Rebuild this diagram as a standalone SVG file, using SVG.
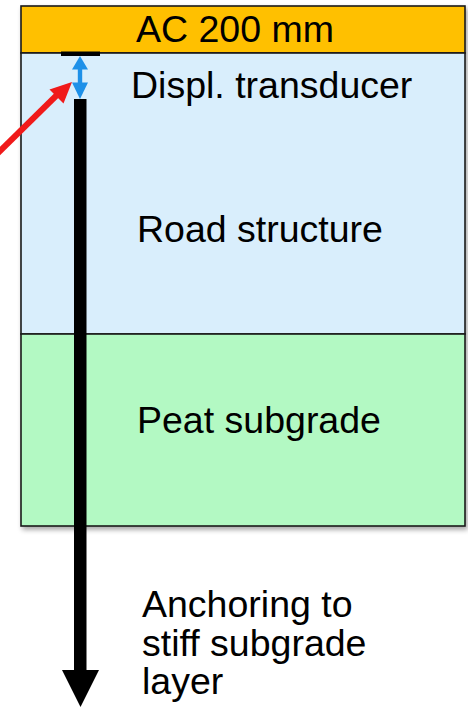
<svg xmlns="http://www.w3.org/2000/svg" width="468" height="713" viewBox="0 0 468 713">
  <style>
    .layer { stroke: #1a1a1a; stroke-width: 1.6; }
    .lbl { font-family: "Liberation Sans", Arial, sans-serif; font-size: 37.5px; fill: #000; }
  </style>
  <defs>
    <filter id="shadow" x="-5%" y="-5%" width="115%" height="115%">
      <feGaussianBlur in="SourceAlpha" stdDeviation="2.5"/>
      <feOffset dx="2" dy="3" result="b"/>
      <feComponentTransfer><feFuncA type="linear" slope="0.35"/></feComponentTransfer>
      <feMerge><feMergeNode/><feMergeNode in="SourceGraphic"/></feMerge>
    </filter>
  </defs>

  <!-- pavement cross-section layers -->
  <g filter="url(#shadow)">
    <g id="layer-ac">
      <rect class="layer" x="21" y="6" width="444" height="47" fill="#FFC000"/>
    </g>
    <g id="layer-road">
      <rect class="layer" x="21" y="53" width="444" height="281" fill="#D9EEFC"/>
    </g>
    <g id="layer-peat">
      <rect class="layer" x="21" y="334" width="444" height="192" fill="#B3F9C3"/>
    </g>
  </g>

  <text class="lbl" x="136" y="41.5">AC 200 mm</text>
  <text class="lbl" x="131" y="97.5">Displ. transducer</text>
  <text class="lbl" x="137" y="241.5">Road structure</text>
  <text class="lbl" x="137" y="432.5">Peat subgrade</text>

  <!-- transducer assembly -->
  <g id="transducer">
    <rect x="61" y="51.5" width="39" height="4.5" fill="#000"/>
    <rect x="77.8" y="66" width="4.4" height="19" fill="#1E90E8"/>
    <polygon points="80,56 72,69.5 88,69.5" fill="#1E90E8"/>
    <polygon points="80,99 72,82.5 88,82.5" fill="#1E90E8"/>
  </g>

  <g id="anchor-rod">
    <rect x="74" y="99" width="12.5" height="573" fill="#000"/>
    <polygon points="62,670 99,670 80.5,707" fill="#000"/>
  </g>

  <g id="connectors">
    <line x1="-4" y1="155" x2="60" y2="92" stroke="#F01A1A" stroke-width="6"/>
    <polygon points="72,82 49.5,89.5 63.5,103.5" fill="#F01A1A"/>
  </g>

  <g id="anchor-label">
    <text class="lbl" x="142" y="617">Anchoring to</text>
    <text class="lbl" x="142" y="656">stiff subgrade</text>
    <text class="lbl" x="142" y="694">layer</text>
  </g>
</svg>
